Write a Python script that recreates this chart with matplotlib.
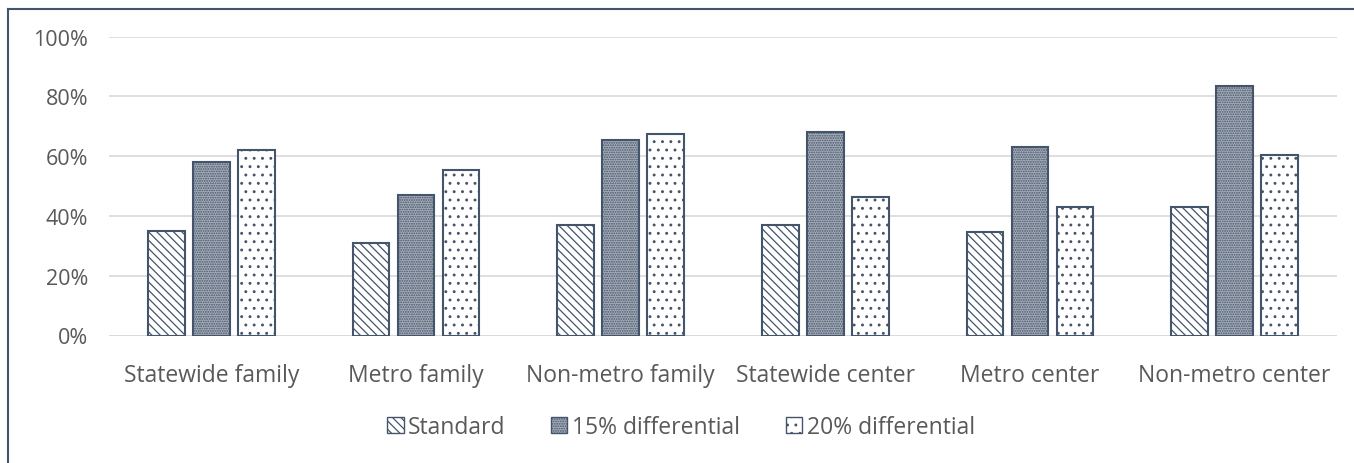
import matplotlib
matplotlib.use("Agg")
import matplotlib.pyplot as plt
import numpy as np
from matplotlib.lines import Line2D
from matplotlib.ticker import PercentFormatter

categories = ["Statewide family", "Metro family", "Non-metro family",
              "Statewide center", "Metro center", "Non-metro center"]
series_names = ["Standard", "15% differential", "20% differential"]
standard = [35, 31, 37, 37, 34.5, 43]
diff15 = [58, 47, 65.5, 68, 63, 83.5]
diff20 = [62, 55.5, 67.5, 46.5, 43, 60.5]
yticks = [0, 20, 40, 60, 80, 100]

plt.rcParams['font.family'] = ['Open Sans', 'DejaVu Sans']
plt.rcParams['hatch.linewidth'] = 0.9

edge = '#44546A'
text_c = '#595959'

fig = plt.figure(figsize=(13.54, 4.64), dpi=100)
ax = fig.add_axes([109/1354, 1-336.5/464, (1337-109)/1354, (336.5-37.7)/464])

x = np.arange(len(categories))
w = 0.18
pitch = 0.22
styles = [
    dict(facecolor='white', hatch='\\\\\\\\'),
    dict(facecolor='#a9b0bb', hatch='.......'),
    dict(facecolor='white', hatch='..'),
]
for i, (vals, name) in enumerate(zip([standard, diff15, diff20], series_names)):
    ax.bar(x + (i-1)*pitch, vals, width=w, edgecolor=edge, linewidth=1.5,
           label=name, zorder=3, **styles[i])

ax.set_ylim(0, 100)
ax.set_xlim(-0.5, len(categories)-0.5)
ax.set_yticks(yticks)
ax.yaxis.set_major_formatter(PercentFormatter(decimals=0))
ax.set_xticks(x)
ax.set_xticklabels(categories)
ax.grid(axis='y', color='#d9d9d9', linewidth=1.2, zorder=0)
for s in ax.spines.values():
    s.set_visible(False)
ax.tick_params(length=0, labelcolor=text_c)
ax.tick_params(axis='x', pad=20, labelsize=16.5)
ax.tick_params(axis='y', pad=15, labelsize=15.5)
ax.axhline(0, color='#d9d9d9', linewidth=1.2, zorder=2)

leg = fig.legend(loc='center', bbox_to_anchor=(0.503, 1-428/464), ncol=3,
                 frameon=False, fontsize=16.5, handlelength=0.7, handleheight=0.7,
                 handletextpad=0.2, columnspacing=2.0)
for t in leg.get_texts():
    t.set_color(text_c)
for h in leg.legend_handles:
    h.set_linewidth(1.0)

fig.add_artist(Line2D([8/1354, 8/1354], [0, 1-10/464], transform=fig.transFigure,
                      color=edge, linewidth=1.5))
fig.add_artist(Line2D([8/1354, 1], [1-10/464, 1-10/464], transform=fig.transFigure,
                      color=edge, linewidth=1.5))

fig.savefig('out.png', dpi=100)
